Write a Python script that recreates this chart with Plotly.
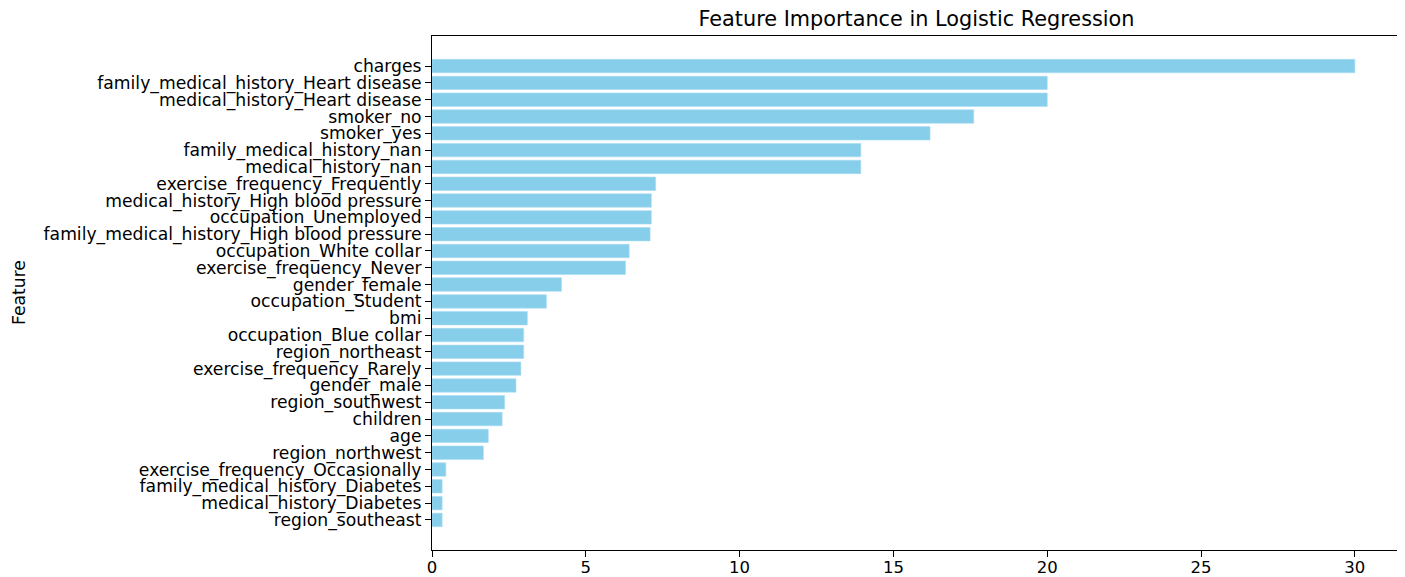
import plotly.graph_objects as go

features = [
    "charges",
    "family_medical_history_Heart disease",
    "medical_history_Heart disease",
    "smoker_no",
    "smoker_yes",
    "family_medical_history_nan",
    "medical_history_nan",
    "exercise_frequency_Frequently",
    "medical_history_High blood pressure",
    "occupation_Unemployed",
    "family_medical_history_High blood pressure",
    "occupation_White collar",
    "exercise_frequency_Never",
    "gender_female",
    "occupation_Student",
    "bmi",
    "occupation_Blue collar",
    "region_northeast",
    "exercise_frequency_Rarely",
    "gender_male",
    "region_southwest",
    "children",
    "age",
    "region_northwest",
    "exercise_frequency_Occasionally",
    "family_medical_history_Diabetes",
    "medical_history_Diabetes",
    "region_southeast",
]

importance = [
    30.0, 20.0, 20.0, 17.61, 16.19, 13.94, 13.94, 7.27, 7.13, 7.13,
    7.09, 6.41, 6.29, 4.21, 3.72, 3.10, 2.98, 2.98, 2.89, 2.73,
    2.36, 2.28, 1.83, 1.67, 0.45, 0.33, 0.33, 0.33,
]

x_ticks = [0, 5, 10, 15, 20, 25, 30]

n = len(features)
xmax = max(importance) * 1.05
pad = 0.4 + 0.05 * (n - 1 + 0.8)

# page body has an 8px margin: size the figure to fit inside the window
OFF = 8
W, H = 1405 - OFF, 577 - OFF
L, R, T, B = 432 - OFF, 4, 36 - OFF, 27

fig = go.Figure(
    go.Bar(
        x=importance,
        y=features,
        orientation="h",
        marker=dict(color="#87CEEB", line=dict(color="#a9dcf1", width=0.6)),
        hoverinfo="x+y",
    )
)

font = "DejaVu Sans, Verdana, sans-serif"
fs = 17.2

fig.update_layout(
    template="none",
    width=W,
    height=H,
    margin=dict(l=L, r=R, t=T, b=B, autoexpand=False),
    paper_bgcolor="white",
    plot_bgcolor="white",
    bargap=0.2,
    showlegend=False,
    font=dict(family=font, size=fs, color="#000000"),
    title=dict(
        text="Feature Importance in Logistic Regression",
        x=(L + (W - R)) / 2 / W,
        xanchor="center",
        y=1 - (19 - OFF) / H,
        yanchor="middle",
        font=dict(family=font, size=20.8, color="#000000"),
    ),
    annotations=[
        dict(
            text="Feature",
            xref="paper",
            yref="paper",
            x=-(L - (19 - OFF)) / (W - L - R),
            y=0.5,
            xanchor="center",
            yanchor="middle",
            textangle=-90,
            showarrow=False,
            font=dict(family=font, size=fs, color="#000000"),
        )
    ],
)

fig.update_xaxes(
    automargin=False,
    range=[0, xmax],
    tickmode="array",
    tickvals=x_ticks,
    ticktext=[str(t) for t in x_ticks],
    ticks="outside",
    ticklen=6,
    tickwidth=1,
    tickcolor="#000000",
    ticklabelstandoff=-4,
    showline=True,
    linecolor="#000000",
    linewidth=1,
    mirror=True,
    showgrid=False,
    zeroline=False,
    tickfont=dict(family=font, size=16.5, color="#000000"),
)

fig.update_yaxes(
    automargin=False,
    type="category",
    categoryorder="array",
    categoryarray=features,
    tickmode="array",
    tickvals=features,
    ticktext=features,
    range=[n - 1 + pad, -pad],
    ticks="outside",
    ticklen=6,
    tickwidth=1,
    tickcolor="#000000",
    showline=True,
    linecolor="#000000",
    linewidth=1,
    mirror=True,
    showgrid=False,
    zeroline=False,
    tickfont=dict(family=font, size=fs, color="#000000"),
)

fig.write_html("out.html")
